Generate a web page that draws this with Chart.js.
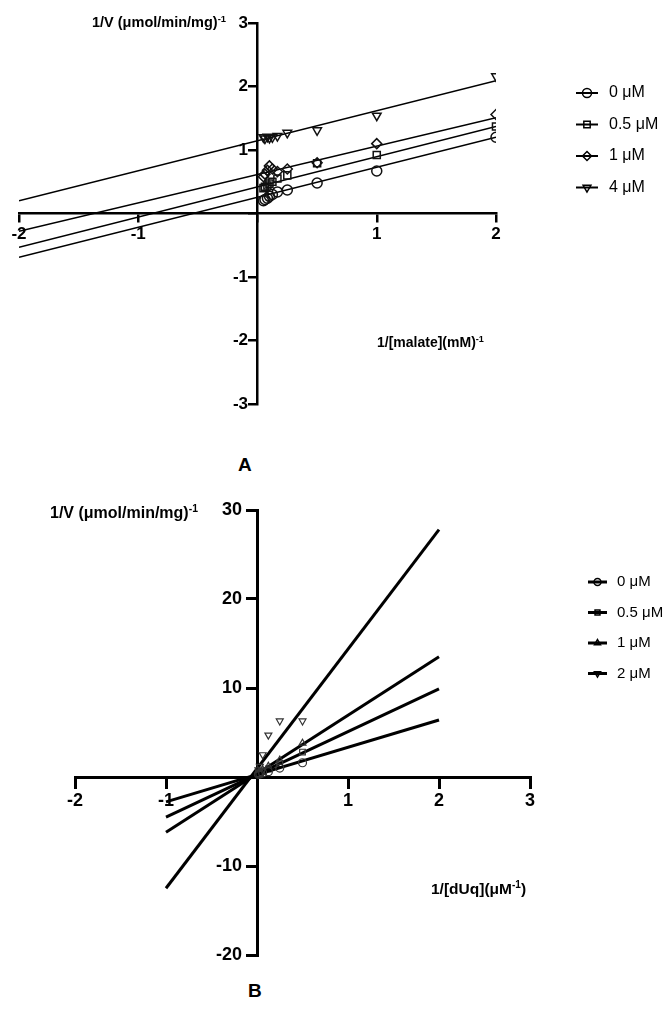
<!DOCTYPE html>
<html>
<head>
<meta charset="utf-8">
<script src="https://cdn.jsdelivr.net/npm/chart.js@4.4.1/dist/chart.umd.min.js"></script>
<style>
  body { margin: 0; background: #fff; width: 671px; height: 1009px; position: relative; overflow: hidden;
         font-family: "Liberation Sans", Arial, sans-serif; }
  .panel { position: absolute; left: 0; }
  .lbl { position: absolute; font-weight: bold; color: #000; white-space: nowrap; line-height: 1; }
  .lbl sup { font-size: 65%; vertical-align: 0.55em; }
</style>
</head>
<body>
<canvas id="chartA" class="panel" style="top:0" width="671" height="430"></canvas>
<canvas id="chartB" class="panel" style="top:480px" width="671" height="500"></canvas>

<div class="lbl" style="left:92px;top:14px;font-size:14.5px">1/V (μmol/min/mg)<sup>-1</sup></div>
<div class="lbl" style="left:377px;top:335px;font-size:14px">1/[malate](mM)<sup>-1</sup></div>
<div class="lbl" style="left:238px;top:455px;font-size:19px">A</div>

<div class="lbl" style="left:50px;top:504px;font-size:16px">1/V (μmol/min/mg)<sup>-1</sup></div>
<div class="lbl" style="left:431px;top:880px;font-size:15.5px">1/[dUq](μM<sup>-1</sup>)</div>
<div class="lbl" style="left:248px;top:981px;font-size:19px">B</div>

<script>
// ---- Panel A: 1/V vs 1/[malate] ----
const seriesA = ['0 μM', '0.5 μM', '1 μM', '4 μM'];
const stylesA = ['circle', 'rect', 'rectRot', 'triangle'];
const rotA = [0, 0, 0, 180];
const xA = [2, 1, 0.5, 0.25, 0.167, 0.125, 0.1, 0.0833, 0.0625, 0.05];
const yA0 = [1.2, 0.67, 0.48, 0.37, 0.34, 0.3, 0.27, 0.24, 0.22, 0.2];
const yA05 = [1.37, 0.92, 0.79, 0.6, 0.55, 0.5, 0.47, 0.44, 0.42, 0.4];
const yA1 = [1.56, 1.1, 0.8, 0.7, 0.66, 0.7, 0.75, 0.68, 0.62, 0.58];
const yA4 = [2.16, 1.54, 1.31, 1.27, 1.22, 1.2, 1.19, 1.21, 1.18, 1.2];
// fitted lines, read at both ends of the x range
const fitXA = [-2, 2];
const fitA = [[-0.69, 1.2], [-0.53, 1.37], [-0.28, 1.51], [0.2, 2.09]];

// ---- Panel B: 1/V vs 1/[dUq] ----
const seriesB = ['0 μM', '0.5 μM', '1 μM', '2 μM'];
const stylesB = ['circle', 'rect', 'triangle', 'triangle'];
const rotB = [0, 0, 0, 180];
const xB = [0.5, 0.25, 0.125, 0.0625, 0.03125, 0.0156];
const yB0 = [1.6, 1.0, 0.6, 0.45, 0.35, 0.3];
const yB05 = [2.8, 1.5, 0.9, 0.6, 0.45, 0.38];
const yB1 = [3.8, 1.9, 1.2, 0.8, 0.55, 0.45];
const yB2 = [6.3, 6.3, 4.7, 2.5, 1.2, 0.8];
const fitXB = [-1, 2];
const fitB = [[-2.8, 6.4], [-4.5, 9.9], [-6.2, 13.5], [-12.5, 27.8]];

const FONT = '"Liberation Sans", Arial, sans-serif';

function pts(xs, ys) {
  return xs.map((x, i) => ({ x: x, y: ys[i] }));
}

// legend drawn at the right side: short line with the marker on it
const sideLegend = {
  id: 'sideLegend',
  afterDraw(chart, args, o) {
    const ctx = chart.ctx;
    ctx.save();
    o.labels.forEach((label, i) => {
      const y = o.top + i * o.gap;
      ctx.strokeStyle = '#000';
      ctx.lineWidth = o.lineWidth;
      ctx.beginPath();
      ctx.moveTo(o.left, y);
      ctx.lineTo(o.left + o.lineLen, y);
      ctx.stroke();
      ctx.lineWidth = o.markerBorder;
      ctx.fillStyle = 'rgba(0,0,0,0)';
      Chart.helpers.drawPoint(ctx, {
        pointStyle: o.styles[i], rotation: o.rotations[i],
        radius: o.markerRadius, borderWidth: o.markerBorder
      }, o.left + o.lineLen / 2, y);
      ctx.fillStyle = '#000';
      ctx.font = o.fontSize + 'px ' + FONT;
      ctx.textBaseline = 'middle';
      ctx.fillText(label, o.left + o.lineLen + o.textGap, y);
    });
    ctx.restore();
  }
};

function buildChart(id, cfg) {
  const datasets = [];
  cfg.labels.forEach((label, i) => {
    datasets.push({
      label: label,
      data: pts(cfg.x, cfg.ys[i]),
      showLine: false,
      pointStyle: cfg.styles[i],
      rotation: cfg.rotations[i],
      pointRadius: cfg.markerRadius,
      pointBorderWidth: cfg.markerBorder,
      pointBorderColor: cfg.markerColor,
      pointBackgroundColor: 'rgba(0,0,0,0)'
    });
    datasets.push({
      label: label + ' fit',
      data: pts(cfg.fitX, cfg.fits[i]),
      showLine: true,
      borderColor: '#000',
      borderWidth: cfg.fitWidth,
      pointRadius: 0
    });
  });

  const tickFont = { family: FONT, size: cfg.tickSize, weight: 'bold' };
  // y labels sit right-aligned on the crossing axis, so pad them with spaces
  const ySpace = ' '.repeat(cfg.yLabelSpaces);
  return new Chart(document.getElementById(id), {
    type: 'scatter',
    data: { datasets: datasets },
    options: {
      responsive: false,
      animation: false,
      layout: { padding: cfg.padding },
      plugins: {
        legend: { display: false },
        tooltip: { enabled: false },
        sideLegend: cfg.legend
      },
      scales: {
        x: {
          type: 'linear', min: cfg.xMin, max: cfg.xMax,
          position: { y: 0 },
          border: { color: '#000', width: cfg.axisWidth },
          grid: { drawOnChartArea: false, tickLength: cfg.tickLen, color: '#000', lineWidth: cfg.axisWidth },
          ticks: {
            stepSize: cfg.xStep, autoSkip: false, maxRotation: 0, color: '#000', padding: 3,
            font: tickFont, callback: v => (v === 0 ? '' : v)
          }
        },
        y: {
          type: 'linear', min: cfg.yMin, max: cfg.yMax,
          position: { x: 0 },
          border: { color: '#000', width: cfg.axisWidth },
          grid: { drawOnChartArea: false, tickLength: cfg.tickLen, color: '#000', lineWidth: cfg.axisWidth },
          ticks: {
            stepSize: cfg.yStep, autoSkip: false, color: '#000', padding: 3,
            font: tickFont, callback: v => (v === 0 ? '' : v + ySpace)
          }
        }
      }
    },
    plugins: [sideLegend]
  });
}

buildChart('chartA', {
  labels: seriesA, styles: stylesA, rotations: rotA,
  x: xA, ys: [yA0, yA05, yA1, yA4],
  fitX: fitXA, fits: fitA, fitWidth: 1.5,
  markerRadius: 5, markerBorder: 1.5, markerColor: '#111',
  xMin: -2, xMax: 2, xStep: 1, yMin: -3, yMax: 3, yStep: 1,
  axisWidth: 2.5, tickLen: 8, tickSize: 17, yLabelSpaces: 2,
  padding: { left: 19, right: 175, top: 23, bottom: 26 },
  legend: {
    labels: seriesA, styles: stylesA, rotations: rotA,
    left: 576, top: 93, gap: 31.5, lineLen: 22, textGap: 11,
    lineWidth: 2, markerRadius: 4.5, markerBorder: 1.5, fontSize: 16
  }
});

buildChart('chartB', {
  labels: seriesB, styles: stylesB, rotations: rotB,
  x: xB, ys: [yB0, yB05, yB1, yB2],
  fitX: fitXB, fits: fitB, fitWidth: 3,
  markerRadius: 4, markerBorder: 1.2, markerColor: '#333',
  xMin: -2, xMax: 3, xStep: 1, yMin: -20, yMax: 30, yStep: 10,
  axisWidth: 3, tickLen: 10, tickSize: 18, yLabelSpaces: 3,
  padding: { left: 75, right: 141, top: 30, bottom: 25 },
  legend: {
    labels: seriesB, styles: stylesB, rotations: rotB,
    left: 588, top: 102, gap: 30.5, lineLen: 19, textGap: 10,
    lineWidth: 3, markerRadius: 3.5, markerBorder: 1.5, fontSize: 15
  }
});
</script>
</body>
</html>
